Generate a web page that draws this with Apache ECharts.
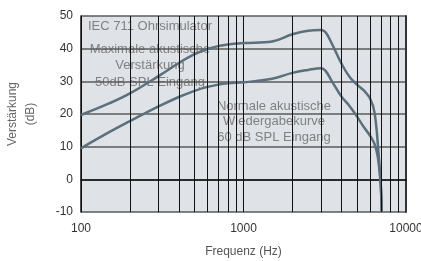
<!DOCTYPE html>
<html>
<head>
<meta charset="utf-8">
<script src="https://cdn.jsdelivr.net/npm/echarts@6/dist/echarts.min.js"></script>
<style>html,body{margin:0;padding:0;background:#fff}#c{width:421px;height:261px}</style>
</head>
<body>
<div id="c"></div>
<script>
// Frequencies (Hz) and gain values (dB)
var maxFreq = [100,150,200,300,400,500,600,700,800,1000,1500,2000,2500,3000,3200,3500,4000,4500,5000,5500,6000,6400,6750,7000,7090];
var maxGain = [19.7,23.3,26.3,31.6,35.6,38.3,39.9,40.8,41.3,41.7,42.2,44.4,45.5,45.7,45.0,41.5,35.5,31.3,29.0,27.2,24.8,20.5,9,-2,-10];
var normFreq = [100,150,200,300,400,500,600,700,800,1000,1500,2000,2500,3000,3200,3500,4000,4500,5000,5500,6000,6400,6700,6970,7090];
var normGain = [9.5,14.5,17.8,22.3,25.2,27.1,28.3,29.0,29.4,29.7,30.8,32.6,33.5,34.0,33.2,30.0,25.4,22.4,19.2,16.0,13.4,10.8,7,-1,-10];
var minorFreqs = [200,300,400,500,600,700,800,900,2000,3000,4000,5000,6000,7000,8000,9000];
var yTicks = {min: -10, max: 50, step: 10};
var xRange = {min: 100, max: 10000};
var annoUpper = ['IEC 711 Ohrsimulator', 'Maximale akustische', 'Verstärkung', '50dB SPL Eingang'];
var annoLower = ['Normale akustische', 'Wiedergabekurve', '60 dB SPL Eingang'];

function zip(a, b) { return a.map(function (v, i) { return [v, b[i]]; }); }

var FONT = 'Liberation Sans';
var chart = echarts.init(document.getElementById('c'), null, {renderer: 'canvas'});
var lineColor = '#5b6f7c';
var annoStyle = {fontFamily: FONT, fontSize: 13, fill: '#808080', textAlign: 'center', textVerticalAlign: 'middle'};
var upperY = [26, 49, 65, 82];
var lowerY = [106, 121, 137];
var graphics = [];
annoUpper.forEach(function (t, i) {
  graphics.push({type: 'text', x: 150, y: upperY[i], z: -1, silent: true,
    style: Object.assign({text: t}, annoStyle)});
});
annoLower.forEach(function (t, i) {
  graphics.push({type: 'text', x: 274, y: lowerY[i], z: -1, silent: true,
    style: Object.assign({text: t}, annoStyle)});
});

chart.setOption({
  animation: false,
  textStyle: {fontFamily: FONT},
  grid: {left: 81, right: 15, top: 16, bottom: 49, containLabel: false, outerBoundsMode: 'none',
    show: true, backgroundColor: '#dfe3e7', borderWidth: 0, z: -2},
  graphic: {elements: graphics},
  xAxis: {
    type: 'log', logBase: 10, min: xRange.min, max: xRange.max,
    name: 'Frequenz (Hz)', nameLocation: 'middle', nameGap: 34,
    nameTextStyle: {fontFamily: FONT, fontSize: 12, color: '#555'},
    axisLine: {show: true, lineStyle: {color: '#111', width: 1.5}},
    axisTick: {show: false},
    axisLabel: {fontFamily: FONT, fontSize: 12, color: '#333', margin: 11,
      formatter: function (v) { return String(Math.round(v)); }},
    splitLine: {show: true, lineStyle: {color: '#111', width: 1}},
    z: 1
  },
  yAxis: [{
    type: 'value', min: yTicks.min, max: yTicks.max, interval: yTicks.step,
    name: 'Verstärkung\n(dB)', nameLocation: 'middle', nameGap: 41,
    nameTextStyle: {fontFamily: FONT, fontSize: 12, color: '#666', lineHeight: 18},
    axisLine: {show: true, lineStyle: {color: '#111', width: 1.5}},
    axisTick: {show: false},
    axisLabel: {fontFamily: FONT, fontSize: 12, color: '#333', margin: 8},
    splitLine: {show: true, lineStyle: {color: '#5a5a5a', width: 1.5}},
    z: 1
  }, {
    type: 'value', min: yTicks.min, max: yTicks.max, interval: yTicks.step, position: 'right',
    axisLine: {show: true, onZero: false, lineStyle: {color: '#333', width: 2}},
    axisTick: {show: false}, axisLabel: {show: false}, splitLine: {show: false}, z: 1
  }],
  series: [{
    type: 'line', data: [], silent: true, z: 1,
    markLine: {
      silent: true, symbol: 'none', label: {show: false}, animation: false,
      lineStyle: {color: '#111', width: 1, type: 'solid'},
      data: minorFreqs.map(function (f) { return {xAxis: f}; })
    }
  }, {
    name: 'Maximale akustische Verstärkung', type: 'line', data: zip(maxFreq, maxGain),
    smooth: 0.4, showSymbol: false, z: 3,
    lineStyle: {color: lineColor, width: 2.5}
  }, {
    name: 'Normale akustische Wiedergabekurve', type: 'line', data: zip(normFreq, normGain),
    smooth: 0.4, showSymbol: false, z: 3,
    lineStyle: {color: lineColor, width: 2.5}
  }]
});
</script>
</body>
</html>
